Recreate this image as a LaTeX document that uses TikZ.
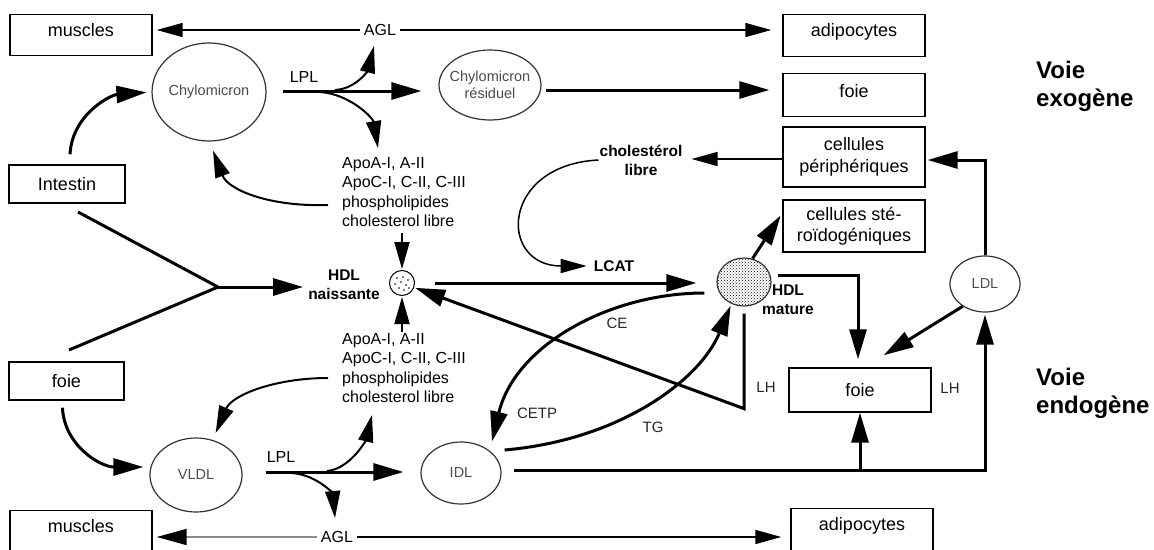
\documentclass[tikz,border=0pt]{standalone}
\usepackage{fontspec}
\setmainfont{Liberation Sans}
\usetikzlibrary{arrows.meta,shapes.geometric,patterns}
\begin{document}
\begin{tikzpicture}[x=1pt,y=-1pt,
  box/.style={draw, line width=1.4pt, inner sep=0pt, font=\fontsize{18}{21.5}\selectfont, align=center},
  part/.style={draw=black!80, ellipse, line width=1.2pt, inner sep=0pt, text=black!70, font=\fontsize{14.5}{17}\selectfont, align=center},
  lab/.style={font=\fontsize{16}{19.5}\selectfont, inner sep=1pt},
  sl/.style={font=\fontsize{15}{18}\selectfont, text=black!85, inner sep=1pt},
  blab/.style={font=\fontsize{15.5}{19}\selectfont\bfseries, inner sep=1pt, align=center},
  voie/.style={font=\fontsize{24}{28}\selectfont\bfseries, align=left, inner sep=0pt},
  big/.style={line width=3pt, -{Triangle[length=30pt,width=17pt]}},
  med/.style={line width=2pt, -{Triangle[length=27pt,width=15pt]}},
  thn/.style={line width=1.5pt, -{Triangle[length=26pt,width=14pt]}},
  ln/.style={line width=3pt},
]
\useasboundingbox (0,0) rectangle (1154,549);
\fill[white] (0,0) rectangle (1154,549);

% boxes
\node[box, anchor=north, minimum width=142, text height=22, text depth=19] (mus1) at (81,14) {muscles};
\node[box, anchor=north, minimum width=142, text height=22, text depth=20] (adi1) at (854,14) {adipocytes};
\node[box, anchor=north, minimum width=142, text height=24, text depth=19] (foie1) at (854,73) {foie};
\node[box, minimum width=142, minimum height=60] (cper) at (854,157) {cellules\\périphériques};
\node[box, minimum width=142, minimum height=52] (cste) at (854,226) {cellules sté-\\roïdogéniques};
\node[box, minimum width=116, minimum height=38] (int) at (67,184) {Intestin};
\node[box, minimum width=115, minimum height=38] (foieL) at (66.5,381) {foie};
\node[box, minimum width=142, minimum height=44] (foieM) at (860,390) {foie};
\node[box, anchor=north, minimum width=142, text height=22, text depth=30] (mus2) at (81,510) {muscles};
\node[box, anchor=north, minimum width=142, text height=22, text depth=30] (adi2) at (862,508) {adipocytes};

% particles
\node[part, minimum width=110, minimum height=98] (chylo) at (209,92) {Chylomicron};
\node[part, minimum width=102, minimum height=70, inner xsep=-8pt] (resid) at (490,85) {Chylomicron\\résiduel};
\node[part, minimum width=92, minimum height=74] (vldl) at (196,475) {VLDL};
\node[part, minimum width=80, minimum height=62] (idl) at (461,473) {IDL};
\node[part, minimum width=70, minimum height=56] (ldl) at (985,284) {LDL};
\node[draw, circle, line width=1pt, minimum size=25, inner sep=0pt] (hdln) at (402,283) {};
\node[draw=black!80, ellipse, line width=1.2pt, minimum width=54, minimum height=48, inner sep=0pt, pattern=crosshatch dots, pattern color=black!90] (hdlm) at (744,282) {};
\foreach \p in {(-5,-5),(1,-6),(6,-3),(-7,1),(-1,-1),(4,2),(-3,5),(2,7),(7,5)}
  \fill (hdln.center) ++\p circle (0.9pt);

% labels
\node[lab, fill=white, inner xsep=4pt] (agl1) at (380,30) {AGL};
\node[lab, fill=white, inner xsep=4pt] (agl2) at (337,537) {AGL};
\node[lab] (lpl1) at (304,77) {LPL};
\node[lab] (lpl2) at (281,457) {LPL};
\node[lab, align=left, anchor=west] (apo1) at (341,192) {ApoA-I, A-II\\ApoC-I, C-II, C-III\\phospholipides\\cholesterol libre};
\node[lab, align=left, anchor=west] (apo2) at (341,368) {ApoA-I, A-II\\ApoC-I, C-II, C-III\\phospholipides\\cholesterol libre};
\node[blab] (hdlnl) at (344,285) {HDL\\naissante};
\node[blab] (hdlml) at (788,300) {HDL\\mature};
\node[blab] (chol) at (641,160) {cholestérol\\libre};
\node[blab] (lcat) at (614,266) {LCAT};
\node[sl] (ce) at (617,323) {CE};
\node[sl] (cetp) at (537,413) {CETP};
\node[sl] (tg) at (653,427) {TG};
\node[sl] (lh1) at (766,387) {LH};
\node[sl] (lh2) at (950,388) {LH};
\node[voie, anchor=west] (vex) at (1036,86) {Voie\\exogène};
\node[voie, anchor=west] (ven) at (1036,393) {Voie\\endogène};

% coordinates
\coordinate (lpl1s) at (283,91);
\coordinate (b1) at (335,90);
\coordinate (b1t) at (374,46);
\coordinate (b2) at (320,92);
\coordinate (b2t) at (378,148);
\coordinate (a1) at (402,233);
\coordinate (a2) at (402,332);
\coordinate (jn) at (218,287);
\coordinate (ji) at (78,212);
\coordinate (jf) at (69,350);
\coordinate (lpl2s) at ([xshift=23pt,yshift=3pt]vldl.east);
\coordinate (b3) at (327,471);
\coordinate (b3t) at (372,415);
\coordinate (b4) at (292,473);
\coordinate (b4t) at (335,518);
\coordinate (bl) at ([xshift=12pt,yshift=3pt]idl.east);
\coordinate (ce_t) at ([xshift=31pt]idl.north);

% top exogenous
\draw[thn, shorten >=4pt] (agl1.west) -- (agl1.west -| mus1.east);
\draw[thn, shorten >=11pt] (agl1.east) -- (agl1.east -| adi1.west);
\draw[big, shorten >=5pt] ([xshift=3pt,yshift=10pt]int.north) .. controls (72,115) and (110,95) .. (chylo.west);
\draw[big, shorten >=17pt] (lpl1s) -- (lpl1s -| resid.west);
\draw[med] (b1) .. controls (356,89) and (368,70) .. (b1t);
\draw[med] (b2) .. controls (350,94) and (373,118) .. (b2t);
\draw[big, shorten >=13pt] ([xshift=4pt,yshift=-5pt]resid.east) -- ([yshift=-5pt]resid.east -| foie1.west);
\draw[med] ([shift={(-13pt,-13pt)}]apo1.west) .. controls (270,207) and (228,190) .. ([shift={(4pt,-9pt)}]chylo.south);
\draw[med, shorten >=1pt] (a1) -- (hdln.north);
\draw[med, shorten >=1pt] (a2) -- (hdln.south);

% HDL
\draw[ln] (ji) -- (jn) -- (jf);
\draw[big, shorten >=4pt] (jn) -- (jn -| hdlnl.west);
\draw[big, shorten <=20pt, shorten >=20pt] (hdln.east) -- (hdln.east -| hdlm.west);
\draw[thn, shorten >=8pt] ([yshift=-2pt]cper.west) -- ([yshift=-2pt]cper.west -| chol.east);
\draw[thn, shorten >=6pt] (chol.west) .. controls (500,165) and (498,266) .. (lcat.west);
\draw[big, shorten >=3pt] (hdlm.70) -- ([yshift=13pt]cste.west);
\draw[big, shorten >=8pt] ([shift={(6pt,7pt)}]hdlm.east) -| ([xshift=-2pt]foieM.north);
\draw[big, shorten >=2pt] (ldl.225) -- ([shift={(22pt,11pt)}]foieM.north);
\draw[big, shorten >=2pt] (ldl.north) |- ([yshift=-3pt]cper.east);
\draw[big, shorten >=2pt] (bl) -| (ldl.south);
\draw[big] (bl -| foieM.south) -- (foieM.south);
\draw[big, shorten >=1pt] ([yshift=-7pt]hdlm.south) -- ++(0,95) -- (hdln);
\draw[big] ([shift={(-12pt,-11pt)}]hdlm.west) .. controls (610,293) and (515,345) .. (ce_t);
\draw[big, shorten >=2pt] ([shift={(3pt,23pt)}]idl.east) .. controls (620,440) and (700,380) .. (hdlm.240);

% bottom endogenous
\draw[big, shorten >=6pt] ([shift={(-4pt,-7pt)}]foieL.south) .. controls (64,445) and (100,467) .. ([yshift=8pt]vldl.west);
\draw[med] ([shift={(-13pt,-10pt)}]apo2.west) .. controls (275,378) and (232,395) .. ([yshift=8pt]vldl.60);
\draw[big, shorten >=17pt] (lpl2s) -- (lpl2s -| idl.west);
\draw[med] (b3) .. controls (350,469) and (366,440) .. (b3t);
\draw[med] (b4) .. controls (318,475) and (333,495) .. (b4t);
\draw[line width=1.6pt, black!45, -{Triangle[length=30pt,width=16pt,black]}, shorten >=4pt] (agl2.west) -- (agl2.west -| mus2.east);
\draw[thn, shorten >=9pt] (agl2.east) -- (agl2.east -| adi2.west);
\end{tikzpicture}
\end{document}
